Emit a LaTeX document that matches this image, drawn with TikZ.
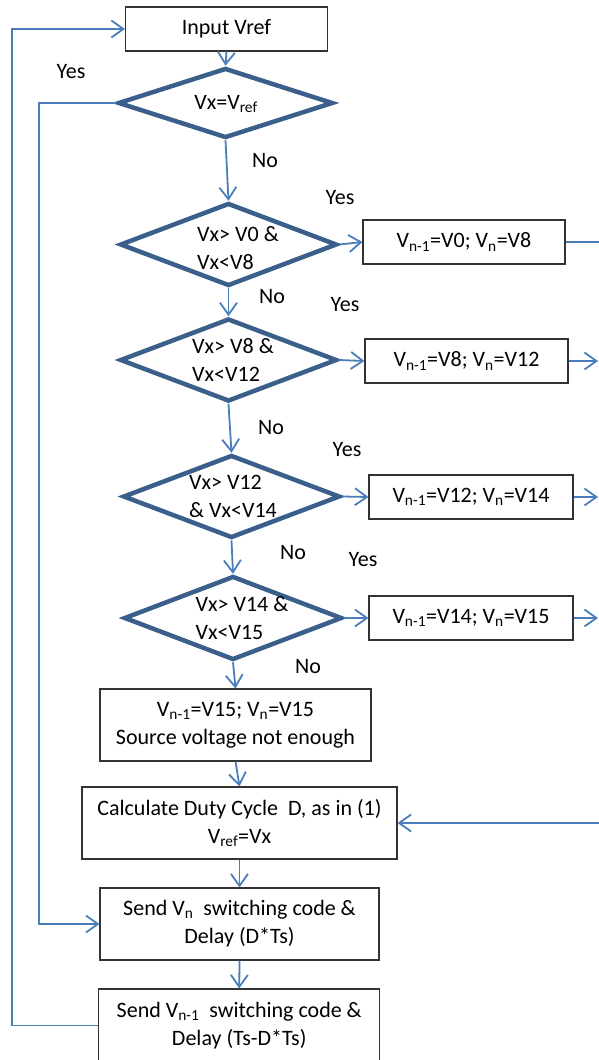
\documentclass[tikz,border=0pt]{standalone}
\usepackage{fontspec}
\setmainfont{Carlito}
\usetikzlibrary{shapes.geometric,arrows.meta}
\definecolor{connc}{HTML}{4A7EBB}
\definecolor{diac}{HTML}{3A5F8B}
\begin{document}
\begin{tikzpicture}[x=1pt,y=1pt,
  every node/.style={font=\fontsize{22}{28}\selectfont},
  box/.style={draw=black!80, line width=1.1pt, fill=white, inner sep=0pt, align=center},
  dec/.style={diamond, draw=diac, line width=4.5pt, fill=white, inner sep=0pt},
  conn/.style={draw=connc, line width=1.8pt},
  arr/.style={conn, -{Straight Barb[length=12pt,width=17pt]}},
  lbl/.style={inner sep=0pt}]
\useasboundingbox (0,0) rectangle (599,-1060);

% process boxes
\node[box, minimum width=202pt, minimum height=44pt] (in) at (226.5,-29) {Input Vref};
\node[box, minimum width=202pt, minimum height=44pt] (b1) at (464,-242) {V\textsubscript{n-1}=V0; V\textsubscript{n}=V8};
\node[box, minimum width=203pt, minimum height=44pt] (b2) at (466.5,-361) {V\textsubscript{n-1}=V8; V\textsubscript{n}=V12};
\node[box, minimum width=204pt, minimum height=44pt] (b3) at (471,-497) {V\textsubscript{n-1}=V12; V\textsubscript{n}=V14};
\node[box, minimum width=204pt, minimum height=44pt] (b4) at (471,-618) {V\textsubscript{n-1}=V14; V\textsubscript{n}=V15};
\node[box, minimum width=271pt, minimum height=72pt] (b5) at (235.5,-725) {V\textsubscript{n-1}=V15; V\textsubscript{n}=V15\\Source voltage not enough};
\node[box, minimum width=315pt, minimum height=72pt] (b6) at (239.5,-823) {Calculate Duty Cycle~ D, as in (1)\\V\textsubscript{ref}=Vx};
\node[box, minimum width=279pt, minimum height=72pt] (b7) at (239.5,-924) {Send V\textsubscript{n}~ switching code \&\\Delay (D*Ts)};
\node[box, minimum width=281pt, minimum height=73pt] (b8) at (239.25,-1025.5) {Send V\textsubscript{n-1}~ switching code \&\\Delay (Ts-D*Ts)};

% decisions
\node[dec, minimum width=215pt, minimum height=70pt] (d1) at (225.5,-103) {};
\node[dec, minimum width=217pt, minimum height=83pt] (d2) at (228.5,-244.5) {};
\node[dec, minimum width=217pt, minimum height=83pt] (d3) at (228.5,-360) {};
\node[dec, minimum width=217pt, minimum height=83pt] (d4) at (231.5,-496.5) {};
\node[dec, minimum width=218pt, minimum height=84pt] (d5) at (233,-618) {};
\node[align=left, inner sep=0pt] (t1) at (226,-104) {Vx=V\textsubscript{ref}};
\node[align=left, inner sep=0pt] (t2) at (238,-248) {Vx> V0 \&\\Vx<V8};
\node[align=left, inner sep=0pt] (t3) at (233,-360) {Vx> V8 \&\\Vx<V12};
\node[align=left, inner sep=0pt] (t4) at (233,-496) {Vx> V12\\\& Vx<V14};
\node[align=left, inner sep=0pt] (t5) at (242,-618) {Vx> V14 \&\\Vx<V15};

% labels
\node[lbl] (y1) at (71,-72) {Yes};
\node[lbl] (y2) at (340,-198) {Yes};
\node[lbl] (y3) at (345,-305) {Yes};
\node[lbl] (y4) at (347,-450) {Yes};
\node[lbl] (y5) at (363,-560) {Yes};
\node[lbl] (n1) at (265,-161) {No};
\node[lbl] (n2) at (272,-297) {No};
\node[lbl] (n3) at (271,-428) {No};
\node[lbl] (n4) at (293,-553) {No};
\node[lbl] (n5) at (308,-667) {No};

% coordinates
\coordinate (c1) at (39,-924);
\coordinate (c2) at (12,-29);
\coordinate (r1) at (599,-242);
\coordinate (r2) at (598,-361);
\coordinate (r3) at (598,-497);
\coordinate (r4) at (598,-618);
\coordinate (r5) at (599,-823);

% connectors
\draw[arr] (in.south) -- (d1.north);
\draw[arr] (d1.south) -- (d2.north);
\draw[arr] (d2.south) -- (d3.north);
\draw[arr] (d3.south) -- (d4.north);
\draw[arr] (d4.south) -- (d5.north);
\draw[arr] (d5.south) -- (b5.north);
\draw[arr] (b5.south) -- (b6.north);
\draw[arr] (b6.south) -- (b7.north);
\draw[arr] (b7.south) -- (b8.north);
\draw[arr] (d2.east) -- (b1.west);
\draw[arr] (d3.east) -- (b2.west);
\draw[arr] (d4.east) -- (b3.west);
\draw[arr] (d5.east) -- (b4.west);
\draw[conn] (b1.east) -- (r1);
\draw[arr] (b2.east) -- (r2);
\draw[arr] (b3.east) -- (r3);
\draw[arr] (b4.east) -- (r4);
\draw[arr] (r5) -- (b6.east);
\draw[arr] (d1.west) -| (c1) -- (b7.west);
\draw[arr] (b8.west) -| (c2) -- (in.west);
\end{tikzpicture}
\end{document}
